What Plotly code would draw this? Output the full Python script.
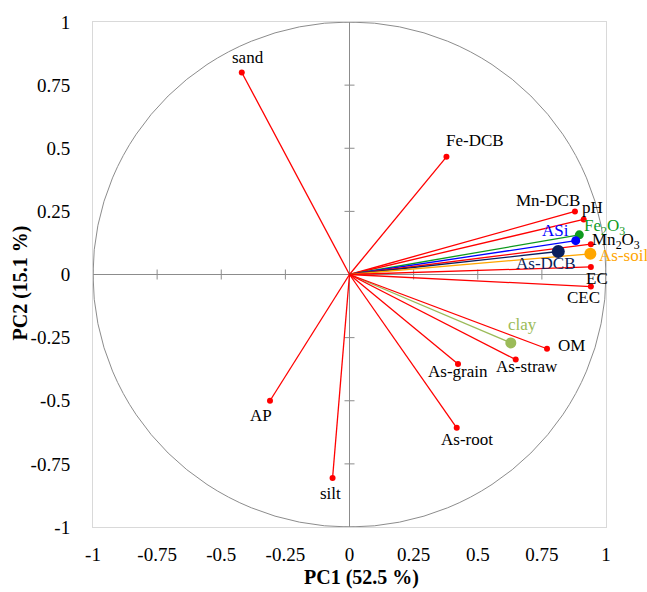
import plotly.graph_objects as go

# ---- data (loadings) ----
variables = ["sand", "Fe-DCB", "Mn-DCB", "pH", "Fe2O3", "ASi", "Mn2O3", "As-DCB",
             "As-soil", "EC", "CEC", "clay", "OM", "As-straw", "As-grain", "As-root",
             "AP", "silt"]
pc1 = [-0.42, 0.378, 0.879, 0.913, 0.896, 0.882, 0.941, 0.814,
       0.939, 0.941, 0.941, 0.629, 0.77, 0.648, 0.423, 0.418,
       -0.31, -0.066]
pc2 = [0.80, 0.466, 0.25, 0.218, 0.157, 0.134, 0.12, 0.091,
       0.082, 0.030, -0.048, -0.271, -0.294, -0.337, -0.354, -0.607,
       -0.50, -0.806]
tick_vals = [-1, -0.75, -0.5, -0.25, 0, 0.25, 0.5, 0.75, 1]
tick_text = ["-1", "-0.75", "-0.5", "-0.25", "0", "0.25", "0.5", "0.75", "1"]
x_title = "PC1 (52.5 %)"
y_title = "PC2 (15.1 %)"

# ---- styles ----
RED = "#FF0000"
style = {
    "Fe2O3": ("#0E9A1E", 9),
    "ASi": ("#0000FF", 9),
    "As-DCB": ("#0B1F5C", 13),
    "As-soil": ("#FFA600", 12),
    "clay": ("#9BBB59", 11),
}
label_text = {"Fe2O3": "Fe<sub>2</sub>O<sub>3</sub>", "Mn2O3": "Mn<sub>2</sub>O<sub>3</sub>"}
# label offsets in pixels (dx right, dy down)
label_off = {
    "sand": (6, -15), "Fe-DCB": (29, -16), "Mn-DCB": (-27, -11), "pH": (9, -12),
    "Fe2O3": (25, -8), "ASi": (-20, -10), "Mn2O3": (25, -3), "As-DCB": (-12, 12),
    "As-soil": (33, 2), "EC": (6, 12), "CEC": (-7, 11), "clay": (12, -18),
    "OM": (24, -3), "As-straw": (11, 7), "As-grain": (0, 8), "As-root": (10, 12),
    "AP": (-9, 15), "silt": (-2, 15),
}
FONT = "Liberation Serif"

fig = go.Figure()

for name, x, y in zip(variables, pc1, pc2):
    color, size = style.get(name, (RED, 6))
    fig.add_trace(go.Scatter(x=[0, x], y=[0, y], mode="lines",
                             line=dict(color=color, width=1.3),
                             hoverinfo="skip", showlegend=False))
for name, x, y in zip(variables, pc1, pc2):
    color, size = style.get(name, (RED, 6))
    fig.add_trace(go.Scatter(x=[x], y=[y], mode="markers",
                             marker=dict(color=color, size=size),
                             name=name, showlegend=False))
    dx, dy = label_off[name]
    fig.add_annotation(x=x, y=y, xref="x", yref="y", text=label_text.get(name, name),
                       showarrow=False, xshift=dx, yshift=-dy,
                       font=dict(family=FONT, size=17, color=color if name in style else "black"))

# unit circle
fig.add_shape(type="circle", xref="x", yref="y", x0=-1, y0=-1, x1=1, y1=1,
              line=dict(color="#8c8c8c", width=1), layer="below")

# tick marks crossing the zero lines
for v in tick_vals:
    if v == 0:
        continue
    fig.add_shape(type="line", xref="x", yref="y", x0=v, x1=v, ysizemode="pixel",
                  yanchor=0, y0=-5, y1=5, line=dict(color="#8c8c8c", width=1), layer="below")
    fig.add_shape(type="line", xref="x", yref="y", y0=v, y1=v, xsizemode="pixel",
                  xanchor=0, x0=-5, x1=5, line=dict(color="#8c8c8c", width=1), layer="below")

# axis titles
fig.add_annotation(xref="paper", yref="paper", x=0.5, y=0, xshift=12, yshift=-50,
                   xanchor="center", yanchor="middle", showarrow=False,
                   text="<b>" + x_title + "</b>",
                   font=dict(family=FONT, size=20, color="black"))
fig.add_annotation(xref="paper", yref="paper", x=0, y=0.5, xshift=-73, yshift=-9,
                   xanchor="center", yanchor="middle", showarrow=False, textangle=-90,
                   text="<b>" + y_title + "</b>",
                   font=dict(family=FONT, size=20, color="black"))

axis_common = dict(
    range=[-1, 1], tickvals=tick_vals, ticktext=tick_text,
    showgrid=False, zeroline=True, zerolinecolor="#8c8c8c", zerolinewidth=1,
    showline=True, mirror=True, linecolor="#d9d9d9", linewidth=1,
    ticks="", tickfont=dict(family=FONT, size=19, color="black"),
)
fig.update_layout(
    width=647, height=592,
    margin=dict(l=93, r=41, t=15, b=65),
    plot_bgcolor="white", paper_bgcolor="white",
    font=dict(family=FONT, color="black"),
    xaxis=dict(**axis_common, ticklabelstandoff=10),
    yaxis=dict(**axis_common, ticklabelstandoff=18),
)

# remove the default page margin so the figure fills the window exactly
fig.write_html("out.html", config={"displayModeBar": False},
               post_script="document.body.style.margin='0';")
